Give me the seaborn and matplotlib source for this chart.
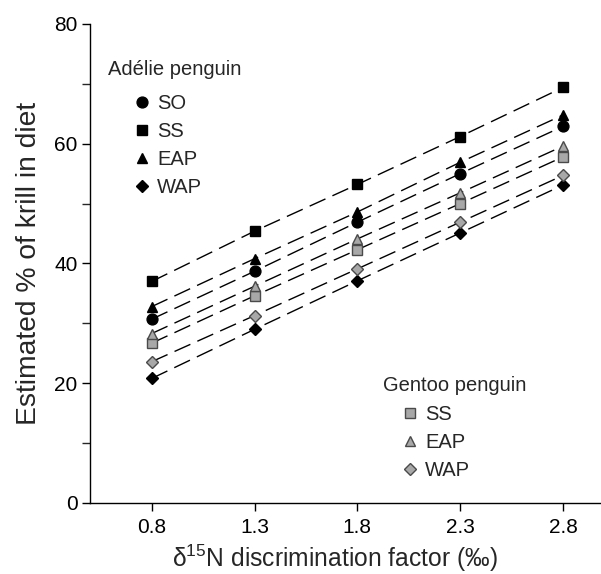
import matplotlib
matplotlib.use("Agg")
import matplotlib.pyplot as plt
from matplotlib.lines import Line2D
import seaborn as sns
import pandas as pd

# Data
x_vals = [0.8, 1.3, 1.8, 2.3, 2.8]
adelie_SO = [30.7, 38.7, 46.9, 55.0, 62.9]
adelie_SS = [37.0, 45.4, 53.2, 61.2, 69.4]
adelie_EAP = [32.8, 40.8, 48.6, 56.9, 64.8]
adelie_WAP = [20.8, 29.0, 37.1, 45.1, 53.1]
gentoo_SS = [26.7, 34.6, 42.3, 50.0, 57.8]
gentoo_EAP = [28.3, 36.2, 44.1, 51.8, 59.6]
gentoo_WAP = [23.6, 31.3, 39.1, 46.9, 54.7]

x_ticks = [0.8, 1.3, 1.8, 2.3, 2.8]
x_ticklabels = ["0.8", "1.3", "1.8", "2.3", "2.8"]
y_ticks = [0, 20, 40, 60, 80]

sns.set_style("ticks")
plt.rcParams['font.family'] = ['Liberation Sans', 'DejaVu Sans']
plt.rcParams['mathtext.fontset'] = 'custom'
plt.rcParams['mathtext.rm'] = 'Liberation Sans'
plt.rcParams['mathtext.it'] = 'Liberation Sans:italic'

GFC, GEC = "#a8a8a8", "#4a4a4a"
series = [
    ("Adélie", "SO", adelie_SO, "o", "black", "black"),
    ("Adélie", "SS", adelie_SS, "s", "black", "black"),
    ("Adélie", "EAP", adelie_EAP, "^", "black", "black"),
    ("Adélie", "WAP", adelie_WAP, "D", "black", "black"),
    ("Gentoo", "SS", gentoo_SS, "s", GFC, GEC),
    ("Gentoo", "EAP", gentoo_EAP, "^", GFC, GEC),
    ("Gentoo", "WAP", gentoo_WAP, "D", GFC, GEC),
]

rows = []
for sp, reg, vals, *_ in series:
    for xv, yv in zip(x_vals, vals):
        rows.append({"species": sp, "region": reg, "x": xv, "y": yv})
df = pd.DataFrame(rows)

fig = plt.figure(figsize=(6.01, 5.74), dpi=100)
ax = fig.add_axes([0.1498, 0.1237, 0.8485, 0.8345])

msize = {"o": 7.8, "s": 7.2, "^": 7.8, "D": 6.4}
for sp, reg, vals, m, fc, ec in series:
    sub = df[(df.species == sp) & (df.region == reg)]
    sns.lineplot(data=sub, x="x", y="y", ax=ax, color="black",
                 linestyle=(0, (12.5, 5.5)), linewidth=1.0, marker=m,
                 markersize=msize[m], markerfacecolor=fc,
                 markeredgecolor=ec, markeredgewidth=1.0, zorder=3)

ax.set_xlim(0.5, 2.98)
ax.set_ylim(0, 80)
ax.set_xticks(x_ticks)
ax.set_xticklabels(x_ticklabels)
ax.set_yticks(y_ticks)
ax.set_yticks([10, 30, 50, 70], minor=True)
ax.tick_params(axis='both', which='major', labelsize=15, length=5.5, width=1,
               direction='out', color='black', labelcolor='black')
ax.tick_params(axis='x', which='major', pad=5.5)
ax.tick_params(axis='y', which='minor', length=5.5, width=1)
for s in ["top", "right"]:
    ax.spines[s].set_visible(False)
for s in ["left", "bottom"]:
    ax.spines[s].set_linewidth(1.0)
    ax.spines[s].set_color("black")

ax.set_xlabel("δ$^{15}$N discrimination factor (‰)", fontsize=17.7)
ax.xaxis.set_label_coords(0.48, -0.082)
ax.set_ylabel("Estimated % of krill in diet", fontsize=20.3, labelpad=9)

def handles(items):
    hs = []
    for m, fc, ec, lab in items:
        hs.append(Line2D([], [], linestyle="none", marker=m, markersize=msize[m],
                         markerfacecolor=fc, markeredgecolor=ec, label=lab))
    return hs

LFS = 14.5
ax.text(0.035, 0.904, "Adélie penguin", transform=ax.transAxes, fontsize=LFS,
        ha="left", va="center")
h1 = handles([("o", "black", "black", "SO"), ("s", "black", "black", "SS"),
              ("^", "black", "black", "EAP"), ("D", "black", "black", "WAP")])
leg1 = ax.legend(handles=h1, loc="upper left", bbox_to_anchor=(0.087, 0.8547),
                 frameon=False, fontsize=LFS, labelspacing=0.45,
                 handletextpad=0.34, handlelength=0.8, borderpad=0,
                 borderaxespad=0)
ax.add_artist(leg1)

ax.text(0.575, 0.246, "Gentoo penguin", transform=ax.transAxes, fontsize=LFS,
        ha="left", va="center")
h2 = handles([("s", GFC, GEC, "SS"), ("^", GFC, GEC, "EAP"), ("D", GFC, GEC, "WAP")])
leg2 = ax.legend(handles=h2, loc="upper left", bbox_to_anchor=(0.6125, 0.2055),
                 frameon=False, fontsize=LFS, labelspacing=0.45,
                 handletextpad=0.34, handlelength=0.8, borderpad=0,
                 borderaxespad=0)

fig.savefig("out.png", dpi=100)
